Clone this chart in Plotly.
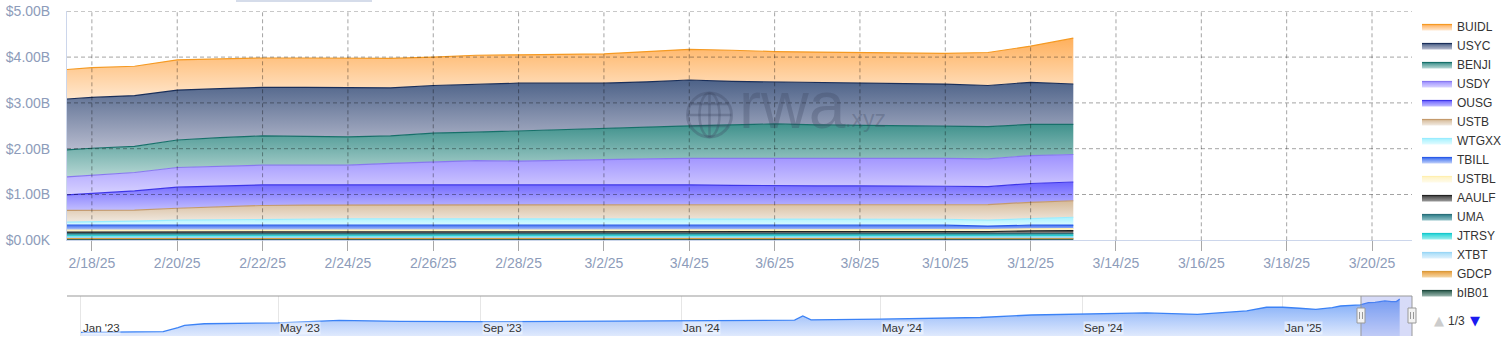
import plotly.graph_objects as go
import numpy as np

# ---------------- data (values in $B) ----------------
dates = ["2025-02-17", "2025-02-18", "2025-02-19", "2025-02-20", "2025-02-21", "2025-02-22",
         "2025-02-23", "2025-02-24", "2025-02-25", "2025-02-26", "2025-02-27", "2025-02-28",
         "2025-03-01", "2025-03-02", "2025-03-03", "2025-03-04", "2025-03-05", "2025-03-06",
         "2025-03-07", "2025-03-08", "2025-03-09", "2025-03-10", "2025-03-11", "2025-03-12",
         "2025-03-13"]

bIB01 = [0.030, 0.030, 0.030, 0.031, 0.031, 0.031, 0.031, 0.031, 0.031, 0.031, 0.031, 0.031, 0.031,
         0.031, 0.031, 0.031, 0.031, 0.031, 0.031, 0.031, 0.031, 0.031, 0.030, 0.030, 0.030]
GDCP = [0.012, 0.012, 0.012, 0.012, 0.012, 0.012, 0.012, 0.012, 0.012, 0.012, 0.012, 0.012, 0.012,
        0.012, 0.012, 0.012, 0.012, 0.012, 0.012, 0.012, 0.012, 0.012, 0.013, 0.015, 0.015]
XTBT = [0.023, 0.023, 0.023, 0.023, 0.023, 0.023, 0.023, 0.023, 0.023, 0.023, 0.023, 0.023, 0.023,
        0.023, 0.023, 0.023, 0.023, 0.023, 0.023, 0.023, 0.023, 0.023, 0.023, 0.023, 0.023]
JTRSY = [0.045, 0.045, 0.045, 0.045, 0.045, 0.045, 0.045, 0.045, 0.045, 0.045, 0.045, 0.045, 0.045,
         0.045, 0.045, 0.045, 0.045, 0.045, 0.045, 0.045, 0.045, 0.045, 0.045, 0.045, 0.045]
UMA = [0.035, 0.035, 0.035, 0.035, 0.035, 0.035, 0.035, 0.035, 0.035, 0.035, 0.035, 0.035, 0.035,
       0.035, 0.035, 0.035, 0.035, 0.035, 0.035, 0.035, 0.035, 0.035, 0.035, 0.035, 0.035]
AAULF = [0.035, 0.035, 0.035, 0.035, 0.035, 0.035, 0.035, 0.035, 0.035, 0.035, 0.035, 0.035, 0.035,
         0.035, 0.035, 0.035, 0.035, 0.035, 0.035, 0.035, 0.035, 0.035, 0.045, 0.060, 0.065]
USTBL = [0.040, 0.040, 0.040, 0.040, 0.040, 0.040, 0.040, 0.040, 0.040, 0.040, 0.040, 0.040, 0.040,
         0.040, 0.040, 0.040, 0.040, 0.040, 0.040, 0.040, 0.040, 0.040, 0.040, 0.040, 0.040]
TBILL = [0.110, 0.110, 0.110, 0.109, 0.109, 0.109, 0.109, 0.109, 0.109, 0.109, 0.109, 0.109, 0.109,
         0.109, 0.109, 0.109, 0.109, 0.109, 0.109, 0.109, 0.109, 0.109, 0.079, 0.082, 0.080]
WTGXX = [0.06, 0.07, 0.09, 0.11, 0.12, 0.13, 0.14, 0.14, 0.14, 0.14, 0.14, 0.14, 0.14,
         0.14, 0.14, 0.14, 0.14, 0.14, 0.14, 0.14, 0.14, 0.13, 0.13, 0.14, 0.17]
USTB = [0.26, 0.25, 0.24, 0.26, 0.28, 0.30, 0.30, 0.30, 0.31, 0.31, 0.30, 0.30, 0.30,
        0.30, 0.30, 0.30, 0.30, 0.30, 0.31, 0.31, 0.31, 0.31, 0.34, 0.36, 0.36]
OUSG = [0.32, 0.38, 0.42, 0.46, 0.46, 0.45, 0.44, 0.44, 0.44, 0.44, 0.44, 0.44, 0.44,
        0.45, 0.44, 0.44, 0.43, 0.42, 0.41, 0.41, 0.41, 0.41, 0.39, 0.41, 0.41]
USDY = [0.39, 0.39, 0.40, 0.43, 0.43, 0.43, 0.43, 0.43, 0.46, 0.49, 0.53, 0.52, 0.54,
        0.55, 0.57, 0.58, 0.59, 0.60, 0.61, 0.61, 0.61, 0.61, 0.61, 0.61, 0.60]
BENJI = [0.59, 0.59, 0.57, 0.60, 0.62, 0.64, 0.63, 0.62, 0.60, 0.63, 0.62, 0.66, 0.67,
         0.68, 0.69, 0.71, 0.73, 0.75, 0.72, 0.71, 0.70, 0.71, 0.70, 0.68, 0.66]
USYC = [1.11, 1.11, 1.11, 1.09, 1.07, 1.06, 1.07, 1.08, 1.05, 1.04, 1.05, 1.04, 1.01,
        0.98, 0.99, 1.00, 0.95, 0.92, 0.93, 0.92, 0.92, 0.91, 0.90, 0.92, 0.88]
BUIDL = [0.64, 0.65, 0.64, 0.66, 0.65, 0.64, 0.64, 0.64, 0.64, 0.62, 0.63, 0.62, 0.63,
         0.64, 0.66, 0.67, 0.68, 0.66, 0.66, 0.67, 0.67, 0.67, 0.72, 0.79, 1.00]

# navigator (total, $B)
nav_dates = ["2023-01-01", "2023-02-01", "2023-02-20", "2023-03-01", "2023-03-05", "2023-03-17",
             "2023-05-01", "2023-06-07", "2023-07-14", "2023-09-01", "2023-11-01", "2024-01-01",
             "2024-03-10", "2024-03-15", "2024-03-20", "2024-05-01", "2024-07-01", "2024-08-01",
             "2024-09-01", "2024-10-10", "2024-11-10", "2024-12-10", "2024-12-22", "2025-01-01",
             "2025-01-11", "2025-01-21", "2025-01-31", "2025-02-05", "2025-02-17", "2025-02-19",
             "2025-02-20", "2025-02-22", "2025-02-26", "2025-03-02", "2025-03-04", "2025-03-08",
             "2025-03-10", "2025-03-11", "2025-03-12", "2025-03-13"]
nav_vals = [0.44, 0.45, 0.51, 0.99, 1.27, 1.46, 1.55, 1.87, 1.75, 1.70, 1.75, 1.79,
            1.88, 2.38, 1.92, 2.02, 2.20, 2.50, 2.62, 2.74, 2.58, 2.98, 3.42, 3.42,
            3.30, 3.18, 3.37, 3.57, 3.70, 3.80, 3.94, 3.98, 4.00, 4.07, 4.17, 4.10,
            4.08, 4.10, 4.24, 4.41]

x_ticks = ["2025-02-18", "2025-02-20", "2025-02-22", "2025-02-24", "2025-02-26", "2025-02-28",
           "2025-03-02", "2025-03-04", "2025-03-06", "2025-03-08", "2025-03-10", "2025-03-12",
           "2025-03-14", "2025-03-16", "2025-03-18", "2025-03-20"]
y_ticks = [0, 1, 2, 3, 4, 5]
y_tick_text = ["$0.00K", "$1.00B", "$2.00B", "$3.00B", "$4.00B", "$5.00B"]
nav_ticks = ["2023-01-01", "2023-05-01", "2023-09-01", "2024-01-01", "2024-05-01",
             "2024-09-01", "2025-01-01"]
nav_tick_text = ["Jan '23", "May '23", "Sep '23", "Jan '24", "May '24", "Sep '24", "Jan '25"]

main_range = ["2025-02-17 10:00", "2025-03-20 22:30"]
nav_range = ["2022-12-23 12:00", "2025-03-20 12:00"]

# ---------------- styling ----------------
# name, values, line colour, fill top, fill bottom   (bottom of stack first)
series = [
    ("bIB01", bIB01, "#1f4a3e", "#2e5e50", "#9cb8b0"),
    ("GDCP", GDCP, "#d99a3a", "#e8a040", "#f5d8a8"),
    ("XTBT", XTBT, "#9ad6f6", "#a6dcf8", "#dff2fd"),
    ("JTRSY", JTRSY, "#18c8cc", "#22d3d6", "#a0eeee"),
    ("UMA", UMA, "#2a6f7a", "#2f7f8a", "#8fc0c6"),
    ("AAULF", AAULF, "#222222", "#444444", "#999999"),
    ("USTBL", USTBL, "#ffefb0", "#fff3c4", "#fffbea"),
    ("TBILL", TBILL, "#2a5ae8", "#3a6df0", "#c2d1fa"),
    ("WTGXX", WTGXX, "#99ecff", "#a6f2ff", "#e2fbff"),
    ("USTB", USTB, "#c49a6c", "#d6ba98", "#f1eae2"),
    ("OUSG", OUSG, "#3e36e8", "#6c63ff", "#c3bfff"),
    ("USDY", USDY, "#8878f0", "#9e91ff", "#d9d4ff"),
    ("BENJI", BENJI, "#17706a", "#3f918c", "#b8d8d5"),
    ("USYC", USYC, "#1a2f5a", "#4d6288", "#b8bccf"),
    ("BUIDL", BUIDL, "#f59a23", "#ffb05c", "#ffe8d0"),
]

W, H = 1501, 342
ML, MR, MT, MB = 67, 89, 11, 6
PW, PH = W - ML - MR, H - MT - MB


def px_x(px):
    return (px - ML) / PW


def px_y(py):
    return (H - MB - py) / PH


FONT = "Liberation Sans, Arial, Helvetica, sans-serif"
LABEL_C = "#8d9cba"

fig = go.Figure()

cum = np.zeros(len(dates))
for name, vals, lc, ctop, cbot in series:
    lower = cum.copy()
    cum = cum + np.array(vals)
    fig.add_trace(go.Scatter(
        x=dates, y=vals, name=name, stackgroup="one", mode="lines",
        line=dict(color=lc, width=1.2),
        fillgradient=dict(type="vertical", colorscale=[[0, cbot], [1, ctop]],
                          start=float(lower.min()), stop=float(cum.max())),
        xaxis="x", yaxis="y", hoverinfo="skip",
    ))

# navigator
fig.add_trace(go.Scatter(
    x=nav_dates, y=nav_vals, mode="lines", fill="tozeroy",
    line=dict(color="#3b82f6", width=1.3),
    fillgradient=dict(type="vertical", colorscale=[[0, "#dfe9fd"], [1, "#7aa8f7"]],
                      start=0, stop=max(nav_vals)),
    xaxis="x2", yaxis="y2", showlegend=False, hoverinfo="skip",
))

shapes = []
GRID = dict(color="rgba(0,0,0,0.36)", width=1, dash="4px,3px")
for d in x_ticks:
    shapes.append(dict(type="line", xref="x", yref="y domain", x0=d, x1=d, y0=0, y1=1,
                       line=GRID, layer="above"))
for v in y_ticks[1:]:
    shapes.append(dict(type="line", xref="x domain", yref="y", x0=0, x1=1, y0=v, y1=v,
                       line=GRID, layer="above"))

# navigator mask + outline + handles
nav_top = px_y(296)
shapes.append(dict(type="rect", xref="x2", yref="paper", x0=main_range[0], x1=main_range[1],
                   y0=0, y1=nav_top, fillcolor="rgba(110,125,230,0.28)", line=dict(width=0),
                   layer="above"))
shapes.append(dict(type="line", xref="paper", yref="paper", x0=0, x1=1, y0=nav_top, y1=nav_top,
                   line=dict(color="#999999", width=1), layer="above"))
for hx in (1361, 1412):
    shapes.append(dict(type="line", xref="paper", yref="paper", x0=px_x(hx), x1=px_x(hx),
                       y0=0, y1=nav_top, line=dict(color="#999999", width=1), layer="above"))
    shapes.append(dict(type="rect", xref="paper", yref="paper", x0=px_x(hx - 4), x1=px_x(hx + 4),
                       y0=px_y(323), y1=px_y(308), fillcolor="#f2f2f2",
                       line=dict(color="#999999", width=1), layer="above"))
    for lx in (hx - 1.5, hx + 1.5):
        shapes.append(dict(type="line", xref="paper", yref="paper", x0=px_x(lx), x1=px_x(lx),
                           y0=px_y(319), y1=px_y(312), line=dict(color="#999999", width=1),
                           layer="above"))

# faint bar at very top (range-selector edge)
shapes.append(dict(type="rect", xref="paper", yref="paper", x0=px_x(236), x1=px_x(372),
                   y0=px_y(2), y1=px_y(-4), fillcolor="#d5dcea", line=dict(width=0)))

# watermark globe
WM = "rgba(60,70,95,0.30)"
gcx, gcy, gr = 709.5, 115, 22
shapes.append(dict(type="circle", xref="paper", yref="paper", x0=px_x(gcx - gr), x1=px_x(gcx + gr),
                   y0=px_y(gcy + gr), y1=px_y(gcy - gr), line=dict(color=WM, width=3), layer="above"))
shapes.append(dict(type="circle", xref="paper", yref="paper", x0=px_x(gcx - 10), x1=px_x(gcx + 10),
                   y0=px_y(gcy + gr), y1=px_y(gcy - gr), line=dict(color=WM, width=2.5), layer="above"))
shapes.append(dict(type="line", xref="paper", yref="paper", x0=px_x(gcx), x1=px_x(gcx),
                   y0=px_y(gcy + gr), y1=px_y(gcy - gr), line=dict(color=WM, width=2.5), layer="above"))
for dy in (-11, 0, 11):
    hw = (gr ** 2 - dy ** 2) ** 0.5
    shapes.append(dict(type="line", xref="paper", yref="paper", x0=px_x(gcx - hw), x1=px_x(gcx + hw),
                       y0=px_y(gcy + dy), y1=px_y(gcy + dy), line=dict(color=WM, width=2.5),
                       layer="above"))

annotations = [
    dict(text="rwa", xref="paper", yref="paper", x=px_x(737), y=px_y(104.5), xanchor="left",
         yanchor="middle", showarrow=False, font=dict(family=FONT, size=66, color=WM)),
    dict(text=".xyz", xref="paper", yref="paper", x=px_x(843), y=px_y(119), xanchor="left",
         yanchor="middle", showarrow=False, font=dict(family=FONT, size=23, color=WM)),
    dict(text="▲", xref="paper", yref="paper", x=px_x(1438.5), y=px_y(320.5), xanchor="center",
         yanchor="middle", showarrow=False, font=dict(family="DejaVu Sans", size=13, color="#cccccc")),
    dict(text="1/3", xref="paper", yref="paper", x=px_x(1456.5), y=px_y(320.5), xanchor="center",
         yanchor="middle", showarrow=False, font=dict(family=FONT, size=12, color="#333333")),
    dict(text="▼", xref="paper", yref="paper", x=px_x(1474.5), y=px_y(320.5), xanchor="center",
         yanchor="middle", showarrow=False, font=dict(family="DejaVu Sans", size=13, color="#1a1af0")),
]
for d, t in zip(nav_ticks, nav_tick_text):
    annotations.append(dict(text=t, xref="x2", yref="paper", x=d, y=px_y(328), xanchor="left",
                            yanchor="middle", xshift=1, showarrow=False,
                            bgcolor="rgba(255,255,255,0.45)", borderpad=0,
                            font=dict(family=FONT, size=11.5, color="#333333")))

fig.update_layout(
    width=W, height=H,
    margin=dict(l=ML, r=MR, t=MT, b=MB, pad=0, autoexpand=False),
    paper_bgcolor="white", plot_bgcolor="white",
    font=dict(family=FONT),
    showlegend=True,
    legend=dict(x=px_x(1417), y=px_y(12), xanchor="left", yanchor="top",
                traceorder="reversed", font=dict(family=FONT, size=12, color="#333333"),
                bgcolor="rgba(0,0,0,0)", tracegroupgap=0, itemwidth=30, maxheight=330),
    xaxis=dict(domain=[0, 1], anchor="y", type="date", range=main_range,
               tickvals=x_ticks, tickformat="%-m/%-d/%y",
               ticks="outside", ticklen=10, tickcolor="#a8a8a8", tickwidth=1,
               tickfont=dict(family=FONT, size=14, color=LABEL_C),
               showgrid=False, zeroline=False, automargin=False,
               showline=True, linecolor="#ccd6eb", linewidth=1, layer="above traces"),
    yaxis=dict(domain=[px_y(240.3), px_y(11.3)], anchor="x", range=[0, 5],
               tickvals=y_ticks, ticktext=y_tick_text, ticks="",
               ticklabelstandoff=13, automargin=False,
               tickfont=dict(family=FONT, size=14, color=LABEL_C),
               showgrid=False, zeroline=False,
               showline=True, linecolor="#ccd6eb", linewidth=1, layer="above traces"),
    xaxis2=dict(domain=[0, 1], anchor="y2", type="date", range=nav_range,
                tickvals=nav_ticks, showticklabels=False,
                ticks="", showgrid=True, gridcolor="#e6e6e6", gridwidth=1,
                showline=False, zeroline=False, automargin=False),
    yaxis2=dict(domain=[0, nav_top], anchor="x2", range=[0, 4.76], visible=False),
    shapes=shapes,
    annotations=annotations,
)

fig.write_html("out.html")
